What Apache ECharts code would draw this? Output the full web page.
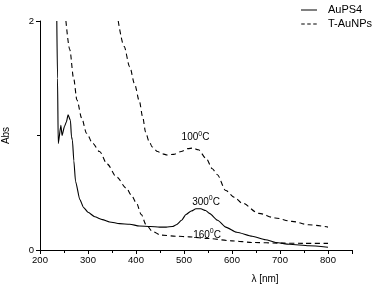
<!DOCTYPE html>
<html>
<head>
<meta charset="utf-8">
<script src="https://cdn.jsdelivr.net/npm/echarts@6/dist/echarts.min.js"></script>
<style>
html,body{margin:0;padding:0;background:#fff;}
#c{width:378px;height:285px;}
</style>
</head>
<body>
<div id="c"></div>
<script>
// ---- data ----
const xTicks = [200, 300, 400, 500, 600, 700, 800];
const yTicks = [0, 2];

const auPS4 = [
  [235, 2.0], [236.5, 1.5], [238, 0.93], [243.5, 1.09], [246, 1.0], [251, 1.08],
  [255, 1.12], [258.5, 1.18], [263.5, 1.13], [265.5, 0.99], [267.5, 0.96],
  [270.5, 0.78], [274, 0.6], [283, 0.44], [291, 0.37], [300, 0.33], [314, 0.29],
  [330, 0.265], [345, 0.245], [366, 0.23], [387, 0.225], [407, 0.21], [430, 0.205],
  [449, 0.2], [463, 0.2], [476, 0.205], [484, 0.22], [495, 0.26], [504, 0.31],
  [515, 0.34], [525, 0.36], [535, 0.36], [545, 0.345], [553, 0.32], [570, 0.26],
  [587, 0.2], [610, 0.155], [642, 0.12], [670, 0.09], [691, 0.066], [720, 0.05],
  [760, 0.037], [800, 0.024]
];

const tAuNPs160 = [
  [254, 2.0], [262, 1.75], [270, 1.5], [277, 1.31], [287, 1.15], [297, 1.02],
  [310, 0.93], [324, 0.86], [340, 0.75], [359, 0.64], [380, 0.54], [390, 0.48],
  [401, 0.41], [411, 0.31], [421, 0.22], [435, 0.16], [452, 0.13], [484, 0.12],
  [511, 0.115], [550, 0.1], [600, 0.08], [642, 0.066], [700, 0.06], [750, 0.058],
  [800, 0.058]
];

const tAuNPs100 = [
  [363, 2.0], [375, 1.78], [387, 1.6], [397, 1.45], [407, 1.3], [414, 1.16],
  [420, 1.03], [427, 0.95], [434, 0.9], [445, 0.86], [455, 0.84], [465, 0.83],
  [478, 0.835], [494, 0.86], [508, 0.885], [518, 0.89], [530, 0.875], [546, 0.8],
  [559, 0.71], [569, 0.66], [587, 0.52], [605, 0.46], [621, 0.41], [656, 0.32],
  [690, 0.28], [725, 0.25], [760, 0.22], [800, 0.2]
];

const annotations = [
  { t: '100', x: 524, y: 0.99 },
  { t: '300', x: 546, y: 0.43 },
  { t: '160', x: 548, y: 0.14 }
];

const FONT = 'Liberation Sans';
const chart = echarts.init(document.getElementById('c'));

const dashed = { color: '#000', width: 1.1, type: [5, 3.5] };

chart.setOption({
  animation: false,
  backgroundColor: '#fff',
  textStyle: { fontFamily: FONT },
  grid: { left: 40, right: 26, top: 21, bottom: 35, containLabel: false, outerBoundsMode: 'none' },
  legend: {
    orient: 'vertical',
    right: 1, top: -1,
    itemWidth: 16, itemHeight: 1, itemGap: 2,
    align: 'left',
    itemStyle: { borderWidth: 0 },
    textStyle: { fontFamily: FONT, fontSize: 11, lineHeight: 12, color: '#000', padding: [0, 0, 0, 6] },
    data: [
      { name: 'AuPS4', icon: 'rect' },
      { name: 'T-AuNPs', icon: 'path://M0,0h3.5v1h-3.5z M6,0h3.5v1h-3.5z M12,0h3.5v1h-3.5z' }
    ]
  },
  xAxis: {
    type: 'value', min: 200, max: 850, interval: 100,
    name: 'λ [nm]', nameLocation: 'middle', nameGap: 24,
    nameTextStyle: { fontFamily: FONT, fontSize: 10, color: '#000', padding: [0, 0, 0, 138] },
    axisLine: { lineStyle: { color: '#000', width: 1 } },
    axisTick: { inside: false, length: 4, lineStyle: { color: '#000' } },
    minorTick: { show: true, splitNumber: 2, length: 3, lineStyle: { color: '#000' } },
    splitLine: { show: false },
    axisLabel: {
      fontFamily: FONT, fontSize: 9.5, color: '#000', margin: 5,
      showMaxLabel: false,
      formatter: v => (xTicks.indexOf(v) >= 0 ? String(v) : '')
    }
  },
  yAxis: {
    type: 'value', min: 0, max: 2, interval: 2,
    name: 'Abs', nameLocation: 'middle', nameGap: 29, nameRotate: 90,
    nameTextStyle: { fontFamily: FONT, fontSize: 10, color: '#000' },
    axisLine: { show: true, lineStyle: { color: '#000', width: 1 } },
    axisTick: { show: true, length: 4, lineStyle: { color: '#000' } },
    minorTick: { show: true, splitNumber: 2, length: 3, lineStyle: { color: '#000' } },
    splitLine: { show: false },
    axisLabel: {
      fontFamily: FONT, fontSize: 9.5, color: '#000', margin: 6,
      formatter: v => (yTicks.indexOf(v) >= 0 ? String(v) : '')
    }
  },
  series: [
    { name: 'AuPS4', type: 'line', data: auPS4, showSymbol: false, symbol: 'none',
      smooth: 0.2, smoothMonotone: 'x',
      lineStyle: { color: '#000', width: 1.1, type: 'solid' }, itemStyle: { color: '#000' } },
    { name: 'T-AuNPs', type: 'line', data: tAuNPs160, showSymbol: false, symbol: 'none',
      smooth: 0.3, smoothMonotone: 'x', lineStyle: dashed, itemStyle: { color: '#000' } },
    { name: 'T-AuNPs', type: 'line', data: tAuNPs100, showSymbol: false, symbol: 'none',
      smooth: 0.3, smoothMonotone: 'x', lineStyle: dashed, itemStyle: { color: '#000' } }
  ]
});

chart.setOption({
  graphic: annotations.map(a => {
    const p = chart.convertToPixel({ gridIndex: 0 }, [a.x, a.y]);
    return {
      type: 'text', x: p[0], y: p[1],
      style: {
        text: '{n|' + a.t + '}{s|0}{n|C}',
        align: 'center', verticalAlign: 'middle',
        fill: '#000',
        rich: {
          n: { fontFamily: FONT, fontSize: 10, fill: '#000', lineHeight: 12, verticalAlign: 'bottom' },
          s: { fontFamily: FONT, fontSize: 7, fill: '#000', lineHeight: 12, verticalAlign: 'top' }
        }
      }
    };
  })
});
</script>
</body>
</html>
